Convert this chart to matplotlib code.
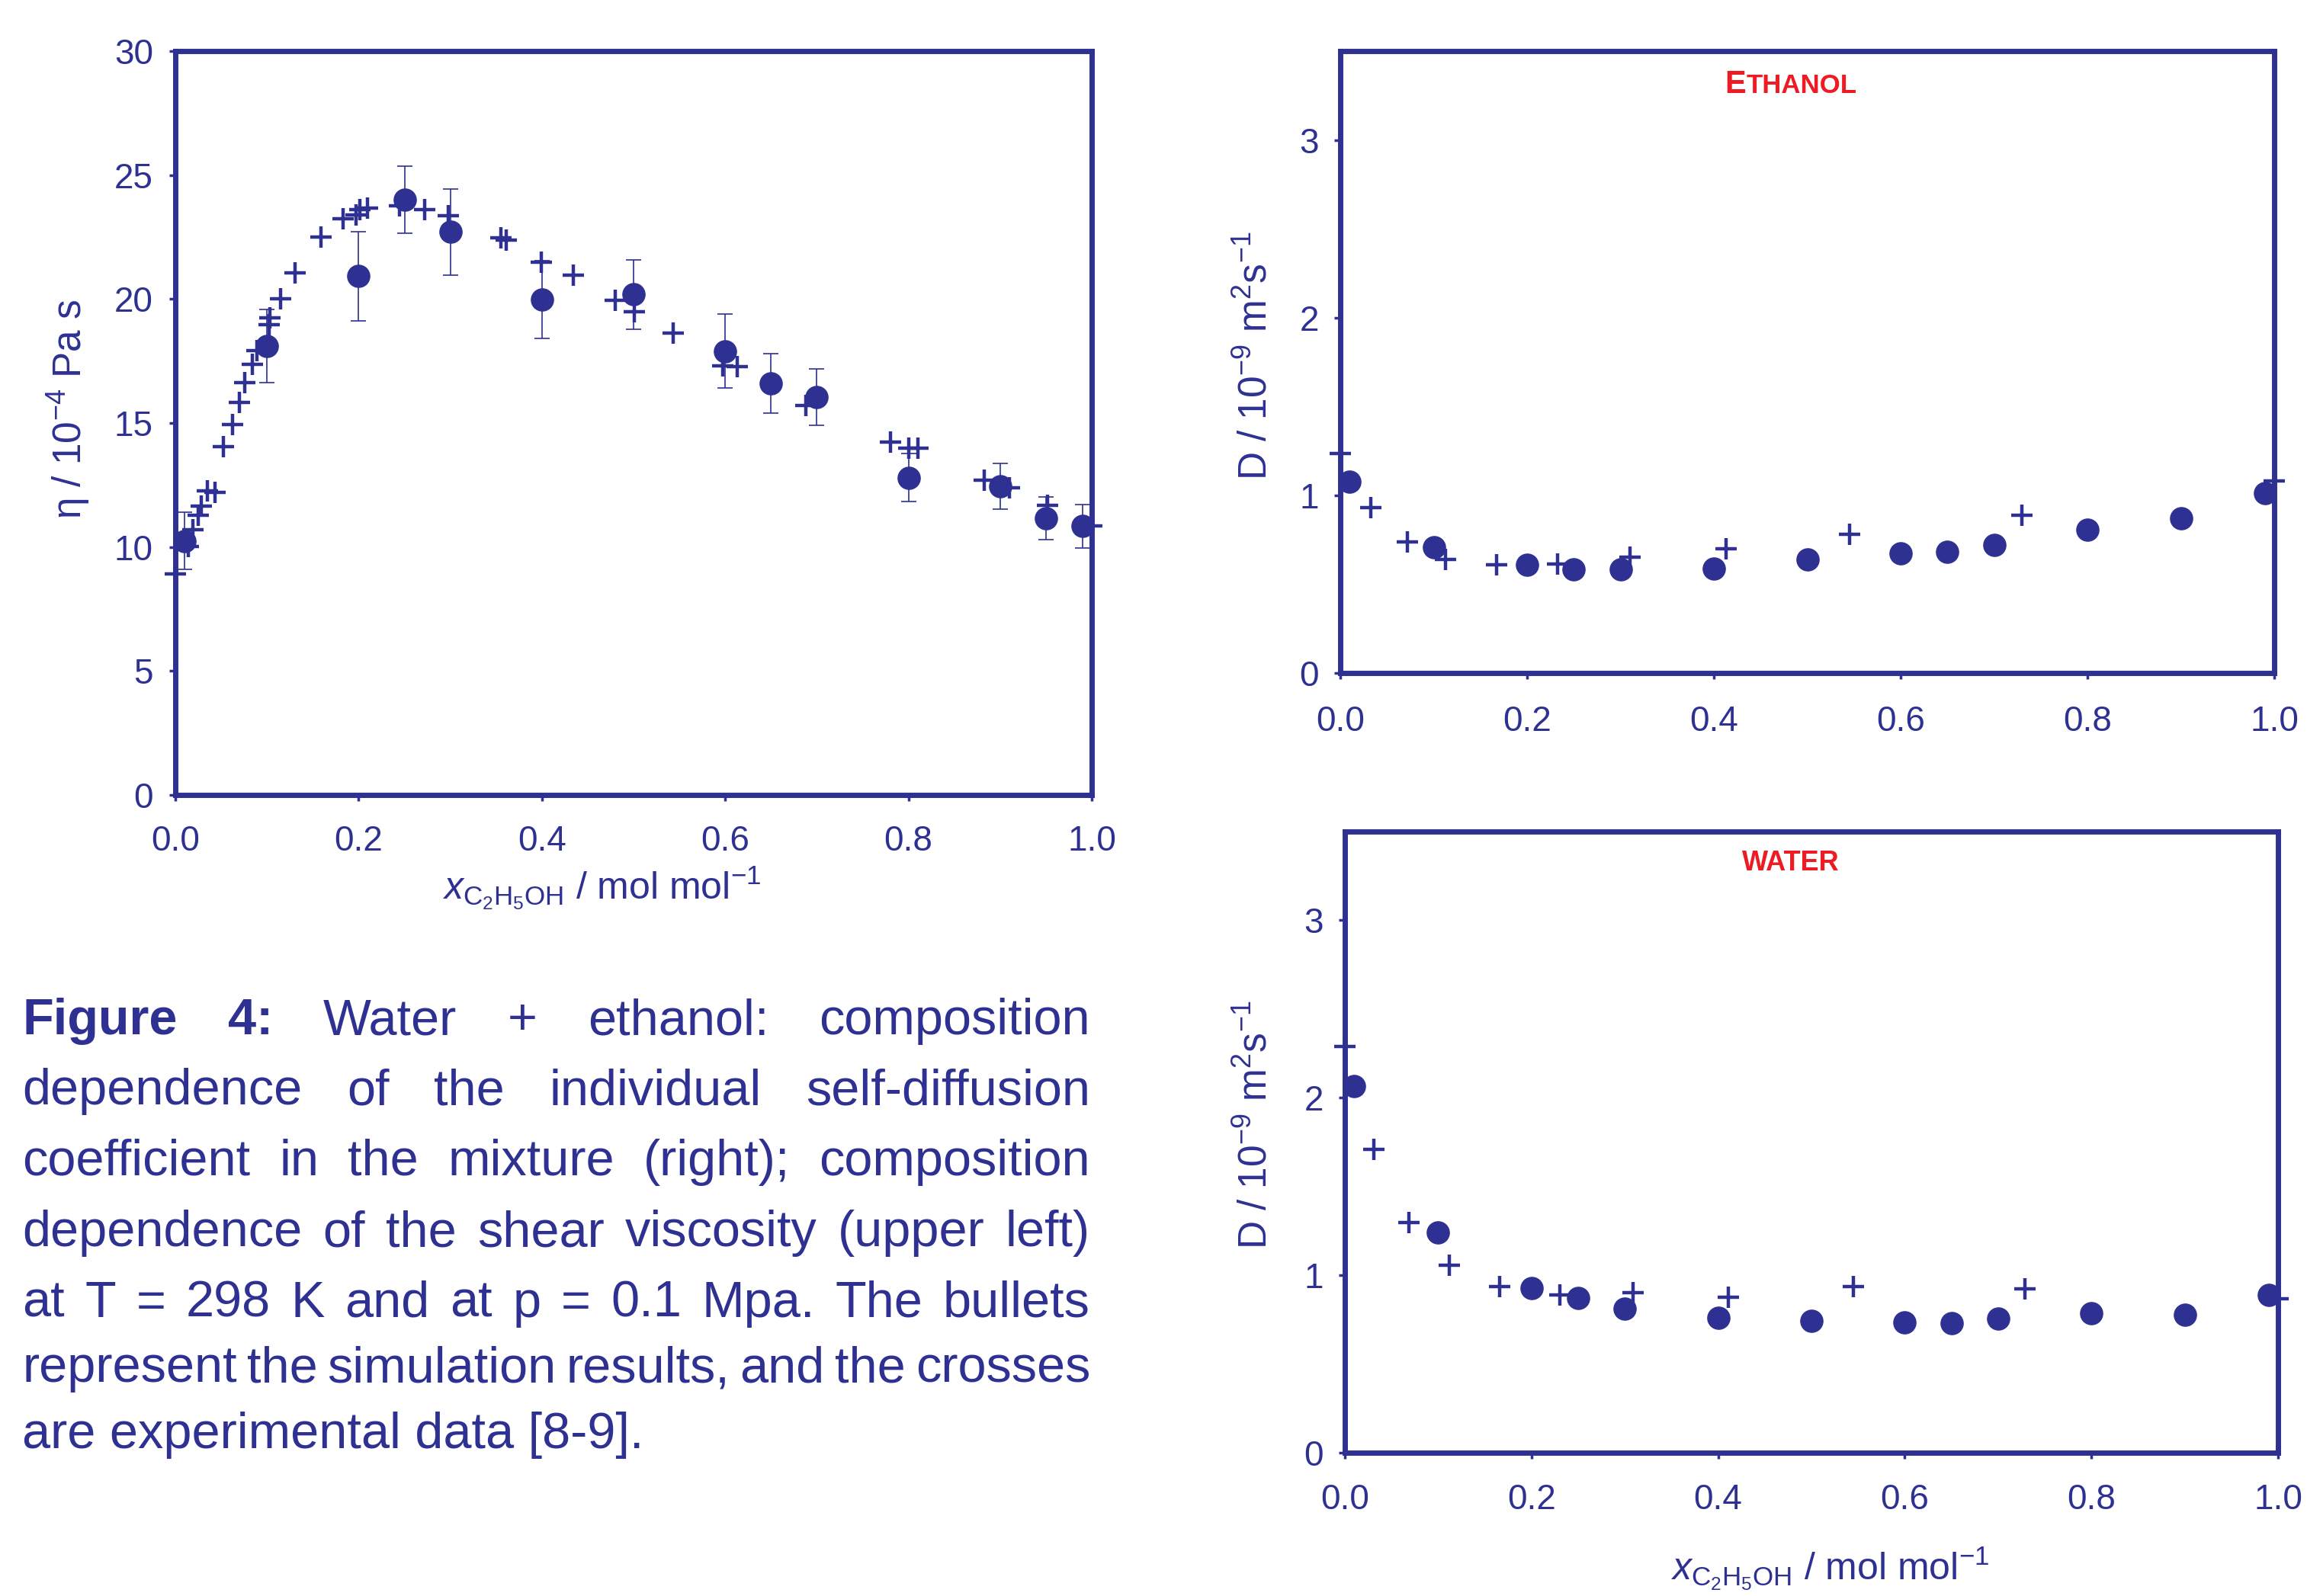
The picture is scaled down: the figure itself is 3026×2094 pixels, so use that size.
import matplotlib
matplotlib.use('Agg')
import matplotlib.pyplot as plt
from matplotlib.ticker import FormatStrFormatter

NAVY = '#2E3192'
RED = '#ED1C24'

plt.rcParams['font.family'] = ['Liberation Sans', 'DejaVu Sans']
plt.rcParams['mathtext.fontset'] = 'custom'
plt.rcParams['mathtext.rm'] = 'Liberation Sans'
plt.rcParams['mathtext.it'] = 'Liberation Sans:italic'
plt.rcParams['mathtext.bf'] = 'Liberation Sans:bold'

# ---------------- data ----------------
# shear viscosity (upper left)
visc_sim_x = [0.01, 0.1, 0.2, 0.25, 0.3, 0.4, 0.5, 0.6, 0.65, 0.7, 0.8, 0.9, 0.95, 0.99]
visc_sim_y = [10.25, 18.1, 20.92, 24.01, 22.71, 19.97, 20.19, 17.9, 16.6, 16.04, 12.8, 12.46, 11.16, 10.84]
visc_sim_err = [1.15, 1.47, 1.8, 1.36, 1.74, 1.57, 1.4, 1.5, 1.2, 1.13, 0.98, 0.92, 0.86, 0.87]
visc_exp_x = [0.0, 0.014, 0.019, 0.025, 0.028, 0.035, 0.043, 0.052, 0.062, 0.07, 0.076,
              0.084, 0.089, 0.102, 0.103, 0.115, 0.131, 0.159, 0.183, 0.197, 0.201, 0.21,
              0.245, 0.272, 0.298, 0.355, 0.361, 0.399, 0.434, 0.48, 0.501, 0.543, 0.597,
              0.613, 0.688, 0.78, 0.80, 0.81, 0.883, 0.91, 0.952, 1.0]
visc_exp_y = [8.9, 10.03, 10.7, 11.27, 11.64, 12.25, 12.19, 14.05, 14.94, 15.82, 16.63,
              17.37, 17.93, 18.96, 19.23, 20.0, 21.04, 22.5, 23.24, 23.4, 23.6, 23.67,
              23.77, 23.62, 23.35, 22.47, 22.39, 21.49, 20.95, 19.94, 19.48, 18.64, 17.32,
              17.27, 15.72, 14.23, 13.98, 13.98, 12.71, 12.4, 11.67, 10.86]

# self-diffusion of ethanol (upper right)
eth_sim_x = [0.01, 0.1, 0.2, 0.25, 0.3, 0.4, 0.5, 0.6, 0.65, 0.7, 0.8, 0.9, 0.99]
eth_sim_y = [1.075, 0.708, 0.607, 0.582, 0.582, 0.588, 0.637, 0.675, 0.684, 0.719, 0.807, 0.87, 1.014]
eth_exp_x = [0.0, 0.033, 0.072, 0.113, 0.167, 0.233, 0.31, 0.413, 0.545, 0.73, 1.0]
eth_exp_y = [1.236, 0.93, 0.738, 0.637, 0.607, 0.615, 0.65, 0.697, 0.779, 0.889, 1.08]

# self-diffusion of water (lower right)
wat_sim_x = [0.01, 0.1, 0.2, 0.25, 0.3, 0.4, 0.5, 0.6, 0.65, 0.7, 0.8, 0.9, 0.99]
wat_sim_y = [2.064, 1.243, 0.927, 0.873, 0.813, 0.758, 0.744, 0.736, 0.73, 0.756, 0.787, 0.778, 0.887]
wat_exp_x = [0.0, 0.031, 0.069, 0.112, 0.166, 0.23, 0.309, 0.411, 0.545, 0.729, 1.0]
wat_exp_y = [2.29, 1.711, 1.295, 1.058, 0.935, 0.887, 0.901, 0.878, 0.935, 0.924, 0.867]

x_ticks = [0.0, 0.2, 0.4, 0.6, 0.8, 1.0]
visc_yticks = [0, 5, 10, 15, 20, 25, 30]
diff_yticks = [0, 1, 2, 3]

visc_ylabel = 'η / 10$^{-4}$ Pa s'
diff_ylabel = 'D / 10$^{-9}$ m$^{2}$s$^{-1}$'
x_label = r'$x_{\mathrm{C_2H_5OH}}$ / mol mol$^{-1}$'

caption_lines = [
    [('Figure', 'bold'), ('4:', 'bold'), ('Water', 'normal'), ('+', 'normal'),
     ('ethanol:', 'normal'), ('composition', 'normal')],
    'dependence of the individual self-diffusion',
    'coefficient in the mixture (right); composition',
    'dependence of the shear viscosity (upper left)',
    'at T = 298 K and at p = 0.1 Mpa. The bullets',
    'represent the simulation results, and the crosses',
    'are experimental data [8-9].',
]

# ---------------- figure ----------------
W, H = 3026, 2094
fig = plt.figure(figsize=(W / 100, H / 100), dpi=100)
fig.patch.set_facecolor('white')

ax_v = fig.add_axes([230 / W, 1 - 1043 / H, 1202 / W, 976 / H])
ax_e = fig.add_axes([1758 / W, 1 - 883 / H, 1225 / W, 816 / H])
ax_w = fig.add_axes([1764 / W, 1 - 1906 / H, 1224 / W, 815 / H])

MS_DOT = 21
MS_CROSS = 20
MEW = 3.2
LABEL_FS = 37
XLABEL_FS = 36


def style(ax, xpad, ypad):
    for sp in ax.spines.values():
        sp.set_linewidth(5)
        sp.set_color(NAVY)
    ax.tick_params(direction='out', length=6, width=2.5, colors=NAVY, labelsize=33)
    ax.tick_params(axis='x', pad=xpad)
    ax.tick_params(axis='y', pad=ypad)
    ax.set_xlim(0, 1)
    ax.set_xticks(x_ticks)
    ax.xaxis.set_major_formatter(FormatStrFormatter('%.1f'))


# viscosity
ax_v.errorbar(visc_sim_x, visc_sim_y, yerr=visc_sim_err, fmt='o', ms=MS_DOT, color=NAVY,
              ecolor=NAVY, elinewidth=1.2, capsize=7.5, capthick=1.2, clip_on=False, zorder=3)
ax_v.plot(visc_exp_x, visc_exp_y, '+', ms=MS_CROSS, mew=MEW, color=NAVY, clip_on=False, zorder=4)
style(ax_v, 22, 15)
ax_v.set_ylim(0, 30)
ax_v.set_yticks(visc_yticks)
ax_v.text(-0.1165, 0.519, visc_ylabel, transform=ax_v.transAxes, rotation=90,
          ha='center', va='center', fontsize=LABEL_FS, color=NAVY)
ax_v.text(0.465, -0.141, x_label, transform=ax_v.transAxes, ha='center', va='baseline',
          fontsize=XLABEL_FS, color=NAVY)

# ethanol
ax_e.plot(eth_sim_x, eth_sim_y, 'o', ms=MS_DOT, color=NAVY, clip_on=False, zorder=3)
ax_e.plot(eth_exp_x, eth_exp_y, '+', ms=MS_CROSS, mew=MEW, color=NAVY, clip_on=False, zorder=4)
style(ax_e, 24, 14)
ax_e.set_ylim(0, 3.5)
ax_e.set_yticks(diff_yticks)
ax_e.text(-0.09, 0.51, diff_ylabel, transform=ax_e.transAxes, rotation=90,
          ha='center', va='center', fontsize=LABEL_FS, color=NAVY)

# water
ax_w.plot(wat_sim_x, wat_sim_y, 'o', ms=MS_DOT, color=NAVY, clip_on=False, zorder=3)
ax_w.plot(wat_exp_x, wat_exp_y, '+', ms=MS_CROSS, mew=MEW, color=NAVY, clip_on=False, zorder=4)
style(ax_w, 23, 14)
ax_w.set_ylim(0, 3.5)
ax_w.set_yticks(diff_yticks)
ax_w.text(-0.095, 0.528, diff_ylabel, transform=ax_w.transAxes, rotation=90,
          ha='center', va='center', fontsize=LABEL_FS, color=NAVY)
ax_w.text(0.52, -0.205, x_label, transform=ax_w.transAxes, ha='center', va='baseline',
          fontsize=XLABEL_FS, color=NAVY)

renderer = fig.canvas.get_renderer()


def text_width(s, **kw):
    t = fig.text(0, 0, s, **kw)
    w = t.get_window_extent(renderer).width
    t.remove()
    return w


# panel titles (small caps "ETHANOL", "WATER")
e_kw = dict(fontsize=30, fontweight='bold', color=RED)
r_kw = dict(fontsize=25, fontweight='bold', color=RED)
we = text_width('E', **e_kw)
wr = text_width('THANOL', **r_kw)
cx, base = 2349, 122
x0 = cx - (we + wr) / 2
fig.text(x0 / W, 1 - base / H, 'E', ha='left', va='baseline', **e_kw)
fig.text((x0 + we) / W, 1 - base / H, 'THANOL', ha='left', va='baseline', **r_kw)
fig.text(2349 / W, 1 - 1142 / H, 'WATER', ha='center', va='baseline',
         fontsize=26, fontweight='bold', color=RED)

# justified caption
CAP_FS = 48
left_px, right_px = 29, 1430
baselines = [1357, 1449, 1542, 1635, 1728, 1813, 1900]
for i, line in enumerate(caption_lines):
    if isinstance(line, str):
        words = [(w, 'normal') for w in line.split(' ')]
    else:
        words = line
    y = 1 - baselines[i] / H
    if i == len(caption_lines) - 1:
        fig.text(left_px / W, y, ' '.join(w for w, _ in words), ha='left', va='baseline',
                 fontsize=CAP_FS, color=NAVY)
        continue
    widths = [text_width(w, fontsize=CAP_FS, fontweight=fw) for w, fw in words]
    gap = (right_px - left_px - sum(widths)) / (len(words) - 1)
    x = left_px
    for (w, fw), wd in zip(words, widths):
        fig.text(x / W, y, w, ha='left', va='baseline', fontsize=CAP_FS,
                 fontweight=fw, color=NAVY)
        x += wd + gap

fig.savefig('out.png', dpi=100, facecolor='white')
